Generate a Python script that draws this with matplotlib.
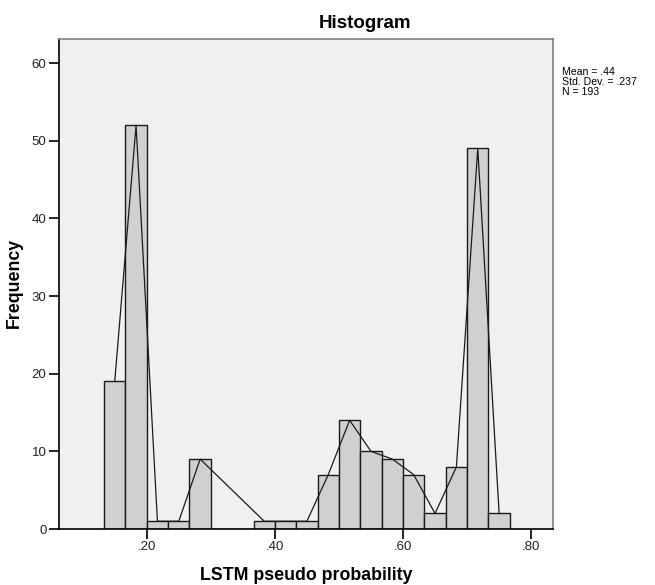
import matplotlib
matplotlib.use("Agg")
import matplotlib.pyplot as plt
import numpy as np

plt.rcParams['font.family'] = ['Liberation Sans', 'DejaVu Sans']

# Histogram data (bin edges and counts)
bin_start = 0.1333
bin_width = 0.03333
counts = [19, 52, 1, 1, 9, 0, 0, 1, 1, 1, 7, 14, 10, 9, 7, 2, 8, 49, 2]
xticks = [0.2, 0.4, 0.6, 0.8]
xticklabels = ['.20', '.40', '.60', '.80']
yticks = [0, 10, 20, 30, 40, 50, 60]
stats_text = "Mean = .44\nStd. Dev. = .237\nN = 193"

edges = bin_start + bin_width * np.arange(len(counts) + 1)
mids = (edges[:-1] + edges[1:]) / 2
counts = np.array(counts)

fig = plt.figure(figsize=(6.55, 5.85), dpi=100)
ax = fig.add_axes([59/655, 1-529/585, (553-59)/655, (529-39)/585])
ax.set_facecolor('#F0F0F0')

ax.bar(edges[:-1], counts, width=bin_width, align='edge',
       color='#D0D0D0', edgecolor='#1a1a1a', linewidth=1.0, zorder=2)

nz = counts > 0
ax.plot(mids[nz], counts[nz], color='#1a1a1a', linewidth=0.9, zorder=3)

ax.set_xlim(0.063, 0.834)
ax.set_ylim(0, 63.1)
ax.set_xticks(xticks)
ax.set_xticklabels(xticklabels)
ax.set_yticks(yticks)
ax.tick_params(direction='out', length=7, width=1.2, labelsize=9.5, colors='#000000',
               labelcolor='#222222', pad=2)

for s in ['left', 'bottom']:
    ax.spines[s].set_color('#000000')
    ax.spines[s].set_linewidth(1.2)
for s in ['top', 'right']:
    ax.spines[s].set_color('#808080')
    ax.spines[s].set_linewidth(1.2)

fig.text(306/655, 1-575/585, 'LSTM pseudo probability', fontsize=12.8,
         fontweight='bold', ha='center', va='center')
fig.text(14/655, 1-283/585, 'Frequency', fontsize=12.8, fontweight='bold',
         ha='center', va='center', rotation=90)

fig.text(365/655, 1-28/585, 'Histogram', fontsize=13.5, fontweight='bold',
         ha='center', va='baseline')
fig.text(562/655, 1-67/585, stats_text, fontsize=7.6, ha='left', va='top',
         linespacing=0.98)

fig.savefig('out.png', dpi=100, facecolor='white')
